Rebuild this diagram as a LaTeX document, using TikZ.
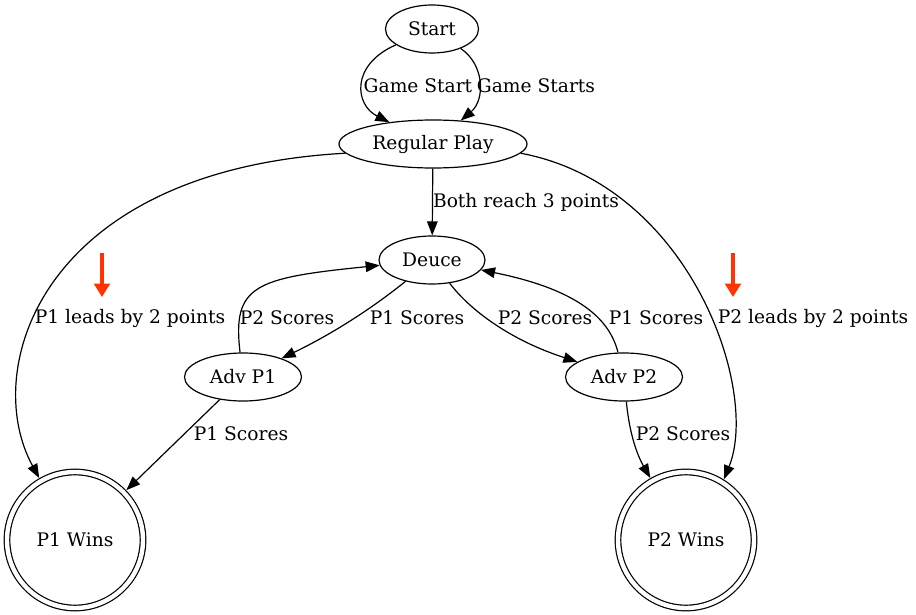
\documentclass[tikz,border=0pt]{standalone}
\usepackage{fontspec}
\setmainfont{DejaVu Serif}
\usetikzlibrary{shapes.geometric,arrows.meta}
\definecolor{hintred}{RGB}{255,51,0}

\begin{document}
\begin{tikzpicture}[
    x=0.5pt, y=-0.5pt,
    every node/.style={font=\fontsize{9.33}{11}\selectfont},
    state/.style={ellipse, draw, line width=0.6pt, inner sep=0pt, minimum height=24pt},
    final/.style={circle, draw, line width=0.6pt, double, double distance=2.2pt, minimum size=68pt, inner sep=0pt, outer sep=1.8pt},
    edge/.style={-{Triangle[length=7pt,width=5.3pt]}, line width=0.6pt},
    hint/.style={-{Triangle[length=6.7pt,width=7.8pt]}, line width=1.6pt, color=hintred},
    lbl/.style={inner sep=0pt}
]
\useasboundingbox (0,0) rectangle (916,615);

% States
\node[state, minimum width=46.5pt] (start) at (432,29) {Start};
\node[state, minimum width=94pt] (regular) at (433,144) {Regular Play};
\node[state, minimum width=53pt] (deuce) at (432,260) {Deuce};
\node[state, minimum width=58.5pt] (adv1) at (243,377) {Adv P1};
\node[state, minimum width=58.5pt] (adv2) at (624,377) {Adv P2};

% Final states
\node[final] (win1) at (75,540) {P1 Wins};
\node[final] (win2) at (686,540) {P2 Wins};

% Hint arrows
\coordinate (hint1-top) at (102,253);
\coordinate (hint1-tip) at (102,297);
\coordinate (hint2-top) at (733,253);
\coordinate (hint2-tip) at (733,297);

% Opening
\draw[edge] (start) .. controls (350,65) and (355,105) .. (regular) node[lbl] at (418,86) {Game Start};
\draw[edge] (start) .. controls (485,65) and (485,100) .. (regular) node[lbl] at (536,86) {Game Starts};
\draw[edge] (regular) -- (deuce) node[lbl] at (526,202) {Both reach 3 points};

% Straight wins
\draw[edge] (regular.186) .. controls (40,170) and (-20,370) .. (win1.120) node[lbl] at (130,318) {P1 leads by 2 points};
\draw[edge] (regular.-6) .. controls (690,185) and (760,390) .. (win2.58) node[lbl] at (813,318) {P2 leads by 2 points};

% Deuce loop
\draw[edge] (deuce) .. controls (370,310) and (330,335) .. (adv1) node[lbl] at (417,318) {P1 Scores};
\draw[edge] (adv1) .. controls (232,285) and (255,278) .. (deuce) node[lbl] at (287,318) {P2 Scores};
\draw[edge] (deuce) .. controls (470,310) and (510,340) .. (adv2) node[lbl] at (545,318) {P2 Scores};
\draw[edge] (adv2) .. controls (610,320) and (580,290) .. (deuce) node[lbl] at (656,318) {P1 Scores};

% Advantage converted
\draw[edge] (adv1) -- (win1) node[lbl] at (241,434) {P1 Scores};
\draw[edge] (adv2) .. controls (630,440) and (640,460) .. (win2) node[lbl] at (683,434) {P2 Scores};

\draw[hint] (hint1-top) -- (hint1-tip);
\draw[hint] (hint2-top) -- (hint2-tip);

\end{tikzpicture}
\end{document}
